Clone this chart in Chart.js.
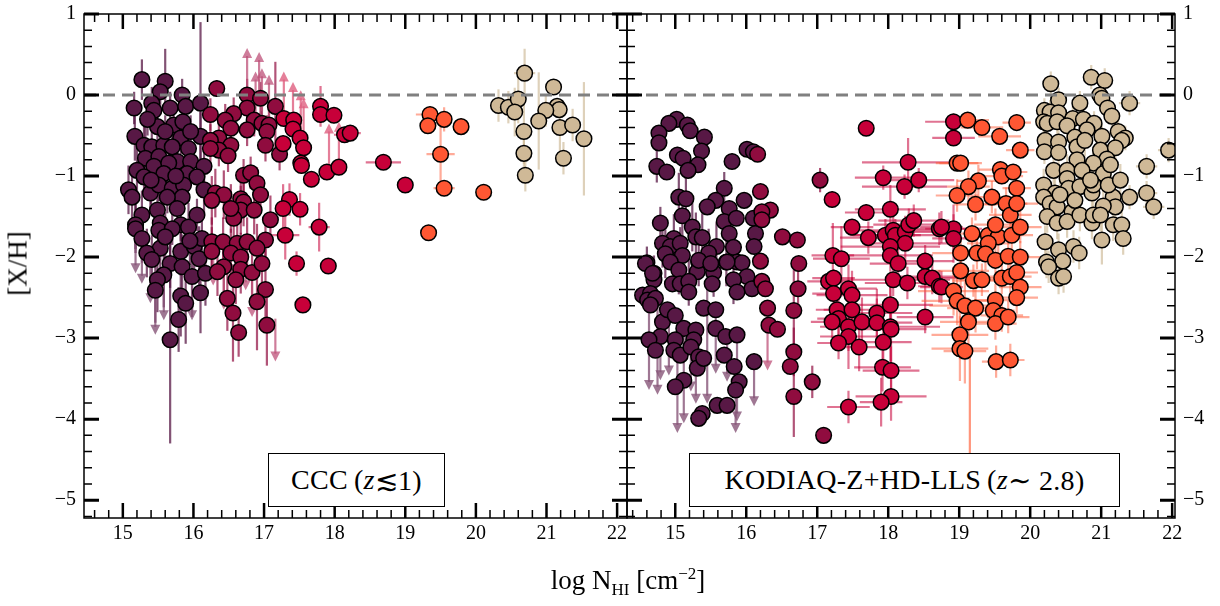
<!DOCTYPE html>
<html>
<head>
<meta charset="utf-8">
<script src="https://cdn.jsdelivr.net/npm/chart.js@4.4.1/dist/chart.umd.min.js"></script>
<style>
  body { margin: 0; background: #fff; }
  #wrap { position: relative; width: 1220px; height: 606px; font-family: "Liberation Serif", "DejaVu Serif", serif; }
  canvas { position: absolute; top: 0; }
  .box { position: absolute; border: 1.5px solid #000; background: #fff; display: flex; align-items: center; justify-content: center; font-size: 28px; letter-spacing: 0.3px; box-sizing: border-box; z-index: 5; white-space: nowrap; }
  #xtitle { position: absolute; left: 428px; width: 400px; top: 564px; text-align: center; font-size: 27px; z-index: 5; }
  #ytitle { position: absolute; left: -32px; width: 100px; top: 248px; text-align: center; font-size: 27px; transform: rotate(-90deg); z-index: 5; }
</style>
</head>
<body>
<div id="wrap">
  <canvas id="cccCanvas" width="640" height="606" style="left:0"></canvas>
  <canvas id="kodCanvas" width="606" height="606" style="left:614px"></canvas>
  <div class="box" style="left:268px; top:453px; width:177px; height:54px;">CCC&#8201;(<i>z</i>≲1)</div>
  <div class="box" style="left:689px; top:453px; width:431px; height:54px;">KODIAQ-Z+HD-LLS&#8201;(<i>z</i> ∼ 2.8)</div>
  <div id="xtitle">log N<sub style="font-size:17px">HI</sub> [cm<sup style="font-size:17px">−2</sup>]</div>
  <div id="ytitle">[X/H]</div>
</div>
<script>
// N_HI classes, in drawing order (last one ends up on top)
const classNames = ['SLFS', 'pLLS', 'LLS', 'SLLS', 'DLA'];
const fillColors = ['#581845', '#900C3F', '#C70039', '#FF5733', '#CFB997'];
const barColors = ['rgba(88,24,69,0.75)', 'rgba(144,12,63,0.7)', 'rgba(199,0,57,0.55)', 'rgba(255,87,51,0.5)', 'rgba(200,178,140,0.6)'];
const arrowColors = ['rgba(135,85,120,0.8)', 'rgba(190,80,120,0.75)', 'rgba(222,95,128,0.8)', 'rgba(255,130,100,0.85)', 'rgba(200,178,140,0.8)'];

const xTicks = [15, 16, 17, 18, 19, 20, 21, 22];
const yTicks = [-5, -4, -3, -2, -1, 0, 1];

// each point: [log NHI, [X/H], y error, x error]
const cccSlfs = [
  [15.27,0.19,0.25],[15.60,0.17,0.4],[15.53,0.04,0.2],[15.84,0.00,0.2],[15.16,-0.16,0.2],[15.41,-0.10,0.2],[15.44,-0.19,0.2],[15.67,-0.16,0.2],[15.89,-0.14,0.2],[16.10,-0.10,1.0],
  [15.49,-0.39,0.2],[15.72,-0.37,0.2],[15.85,-0.33,0.2],[15.17,-0.51,0.3],[16.10,-0.51,0.3],[15.82,-0.53,0.2],[15.30,-0.62,0.3],[15.41,-0.64,0.2],[15.58,-0.62,0.2],[15.70,-0.64,0.2],
  [15.93,-0.66,0.2],[15.32,-0.78,0.5],[15.51,-0.76,0.2],[15.77,-0.82,0.2],[15.96,-0.82,0.2],[16.15,-0.88,0.3],[15.20,-0.93,0.4],[15.44,-0.88,0.2],[15.65,-0.84,0.2],[15.58,-0.97,0.2],
  [15.91,-0.97,0.2],[16.05,-1.01,0.2],[15.30,-1.01,0.2],[15.08,-1.17,0.3],[15.13,-1.26,0.3],[15.39,-1.21,0.2],[15.51,-1.11,0.2],[15.70,-1.15,0.2],[15.86,-1.11,0.2],[15.84,-1.26,0.2],
  [15.63,-1.26,0.2],[16.15,-1.17,0.3],[15.27,-1.48,0.3],[15.49,-1.42,0.2],[15.77,-1.40,0.2],[16.05,-1.48,0.2],[15.18,-1.60,0.3],[15.53,-1.58,0.2],[15.82,-1.60,0.2],[15.18,-1.65,0.3],
  [15.51,-1.67,0.2],[15.70,-1.65,0.2],[15.93,-1.63,0.3],[15.27,-1.77,0.3],[15.53,-1.89,0.3],[15.82,-1.93,0.3],[16.01,-1.87,0.3],[16.12,-1.77,0.3],[15.34,-1.95,0.3],[15.41,-2.03,0.3],
  [15.67,-2.08,0.3],[15.84,-2.12,0.4],[16.08,-2.02,0.4],[15.98,-2.24,0.5],[16.17,-2.20,0.4],[15.58,-2.22,0.4],[15.49,-2.28,0.4],[15.46,-2.41,0.4],[16.10,-2.44,0.5],[15.82,-2.48,0.5],
  [15.89,-2.57,0.5],[15.79,-2.77,0.4],[15.67,-3.02,1.28],[15.35,-0.30,0.2],[15.60,-0.45,0.2],[15.96,-0.45,0.2],[15.40,-1.05,0.3],[15.75,-1.00,0.2],[15.60,-1.75,0.3],[15.95,-1.80,0.3]
];
const cccPlls = [
  [16.33,0.08,0.1],[16.76,0.00,0.2],[16.95,-0.04,0.2],[17.16,-0.14,0.55],[16.76,-0.16,0.2],[16.57,-0.23,0.2],[16.24,-0.24,0.2],[16.86,-0.31,0.2],[16.45,-0.31,0.2],[16.97,-0.35,0.2],
  [16.53,-0.41,0.2],[17.07,-0.37,0.2],[16.76,-0.43,0.2],[17.04,-0.45,0.2],[16.36,-0.53,0.2],[16.24,-0.56,0.2],[16.53,-0.62,0.2],[16.36,-0.68,0.2],[16.49,-0.75,0.2],[16.24,-0.66,0.2],
  [17.02,-0.62,0.2],[17.22,-0.73,0.2],[16.71,-0.99,0.2],[16.81,-0.96,0.2],[16.90,-1.09,0.2],[16.67,-1.28,0.3],[16.95,-1.23,0.2],[16.31,-1.21,0.3],[16.43,-1.23,0.3],[16.71,-1.32,0.3],
  [16.67,-1.42,0.3],[16.57,-1.52,0.3],[16.26,-1.30,0.3],[16.53,-1.40,0.3],[16.86,-1.42,0.3],[17.09,-1.54,0.3],[16.26,-1.81,0.3],[16.42,-1.81,0.3],[16.62,-1.83,0.3],[16.76,-1.81,0.3],
  [17.02,-1.79,0.3],[16.90,-1.89,0.3],[16.26,-1.93,0.3],[16.53,-1.95,0.3],[16.67,-2.00,0.3],[16.43,-2.12,0.3],[16.67,-2.15,0.3],[16.83,-2.19,0.3],[16.97,-2.08,0.3],[16.34,-2.18,0.3],
  [16.60,-2.28,0.3],[17.02,-2.40,0.5],[16.48,-2.51,0.4],[16.90,-2.55,0.6],[16.56,-2.69,0.6],[17.04,-2.84,0.5],[16.64,-2.93,0.3]
];
const cccLls = [
  [17.80,-0.14,0.25,0.1],[17.80,-0.24,0.1],[17.99,-0.25,0.1],[18.14,-0.49,0.1,0.15],[18.22,-0.47,0.1,0.15],[18.69,-0.83,0.05,0.25],[19.00,-1.11],[17.28,-0.29,0.1],[17.42,-0.31,0.1],[17.41,-0.42,0.1],
  [17.51,-0.53,0.1],[17.56,-0.65,0.1],[17.27,-0.60,0.1],[17.52,-0.84,0.1],[17.53,-0.87,0.1],[17.67,-1.04,0.1],[17.89,-0.95,0.1],[18.06,-0.89,0.1],[17.36,-1.29,0.2],[17.27,-1.40,0.3],
  [17.51,-1.41,0.2],[17.78,-1.63,0.3,0.15],[17.30,-1.73,0.3,0.2],[17.46,-2.08,0.15],[17.91,-2.11],[17.55,-2.59]
];
const cccSlls = [
  [19.35,-0.24,0.1,0.2],[19.55,-0.30,0.15,0.1],[19.32,-0.38,0,0.1],[19.79,-0.39,0.1],[19.50,-0.73,0.35,0.2],[19.55,-1.15,0.1,0.15],[20.11,-1.20,0.1],[19.33,-1.70]
];
const cccDla = [
  [20.69,0.27,0.3,0.15],[21.10,0.10,0.1],[20.32,-0.13,0.2],[20.46,-0.15,0.2],[20.60,-0.05,0.3],[20.55,-0.21,0.3],[21.15,-0.14,0.1],[21.18,-0.18,0.1],[20.99,-0.19,0.2],[20.89,-0.32,0.6],
  [20.68,-0.45,0.4],[21.19,-0.40,0.3],[21.37,-0.37,0.2],[21.53,-0.54,0.7],[20.68,-0.72,0.3],[21.24,-0.78,0.2],[20.70,-0.99,0.2]
];
// limits: [log NHI, from [X/H], arrow tip [X/H], class index]
const cccLimits = [
  [15.18,-1.65,-2.20,0],[15.27,-1.77,-2.33,0],[15.39,-1.95,-2.57,0],[15.46,-2.41,-2.96,0],[15.58,-2.22,-2.78,0],[15.98,-2.24,-2.78,0],
  [16.28,-1.93,-2.35,1],[16.43,-2.12,-2.65,1],[16.74,-1.81,-2.41,1],[16.83,-2.19,-2.74,1],[17.16,-2.76,-3.29,1],
  [16.76,0.00,0.58,1],[16.93,-0.04,0.53,1],[16.88,-0.25,0.29,1],[16.97,-0.20,0.33,1],[17.07,-0.30,0.25,1],
  [17.28,-0.29,0.29,2],[17.41,-0.31,0.16,2],[17.52,-0.53,0.06,2],[17.56,-0.65,-0.04,2],[17.92,-0.95,-0.35,2],[18.06,-0.89,-0.33,2]
];

const kodSlfs = [
  [15.02,-0.30],[14.91,-0.35],[15.17,-0.37],[15.21,-0.44],[14.77,-0.47],[14.77,-0.59],[15.41,-0.52],[15.37,-0.69],[15.03,-0.74,0.1],[15.11,-0.78],
  [15.32,-0.86],[15.18,-0.93],[14.74,-0.88,0.2],[14.88,-0.95],[15.80,-0.82],[16.01,-0.67],[16.10,-0.70],[15.69,-1.15,0.2],[15.57,-1.30],[15.45,-1.38],
  [15.97,-1.30],[15.05,-1.26,0.3],[15.15,-1.28,0.3],[15.76,-1.40],[15.10,-1.49,0.3],[14.79,-1.58,0.2],[15.24,-1.63,0.3],[15.69,-1.56,0.2],[15.86,-1.52],[16.10,-1.52],
  [15.29,-1.75,0.3],[15.38,-1.76,0.3],[15.76,-1.71,0.2],[16.13,-1.71],[14.98,-1.77,0.3],[14.82,-1.83,0.3],[14.93,-1.87],[15.07,-1.83,0.2],[15.58,-1.87,0.3],[15.82,-1.88,0.2],
  [16.11,-1.87],[14.86,-1.96,0.3],[15.10,-1.98],[15.47,-1.95,0.3],[14.60,-2.07,0.2],[14.93,-2.06],[15.33,-2.06,0.3],[15.72,-2.06,0.3],[15.87,-2.06],[15.94,-2.07],
  [15.05,-2.16,0.3],[15.31,-2.18],[15.54,-2.19,0.3],[16.01,-2.24],[14.70,-2.20],[14.70,-2.28,0.3],[14.96,-2.33],[15.07,-2.33],[15.19,-2.30,0.3],[15.52,-2.33],
  [15.82,-2.28,0.3],[16.08,-2.39],[14.54,-2.47],[14.65,-2.45],[14.61,-2.53],[14.72,-2.51],[14.65,-2.59],[14.82,-2.80],[14.79,-2.98],[14.63,-3.02],
  [14.72,-3.15],[15.19,-2.43],[14.89,-2.65],[15.00,-2.72],[15.12,-2.88],[15.00,-3.02],[14.98,-3.15],[15.07,-3.21],[15.29,-2.90],[15.26,-3.02],
  [15.22,-3.11],[15.33,-3.23],[15.31,-3.37],[15.40,-3.25],[15.12,-3.52],[15.00,-3.60],[15.40,-2.63],[15.57,-2.65],[15.57,-2.88],[15.71,-2.98],
  [15.87,-2.96],[15.87,-2.43],[15.69,-3.21],[16.11,-3.29],[15.83,-3.35],[15.90,-3.54],[15.85,-3.64],[15.59,-3.83],[15.73,-3.83],[15.38,-3.93],
  [15.33,-3.99],[15.33,-2.04],[15.50,-2.08],[15.73,-2.06],[14.58,-2.08],[14.68,-2.20]
];
const kodPlls = [
  [16.16,-0.73],[16.20,-1.19],[16.34,-1.42],[16.22,-1.44],[16.22,-1.54],[16.51,-1.75],[16.72,-1.79],[16.20,-2.05],[16.74,-2.08],[16.22,-2.30],
  [16.27,-2.39],[16.73,-2.39,0.3],[16.30,-2.63],[16.32,-2.84],[16.44,-2.89],[16.67,-2.66,0.5],[16.67,-3.17,0.3],[16.62,-3.35],[16.67,-3.72,0.5],[16.93,-3.54,0.2],
  [17.09,-4.20,0.1],[17.04,-1.05,0.15]
];
const kodLls = [
  [17.69,-0.41,0.05,0.1],[18.28,-0.83,0.3,0.65],[17.93,-1.02,0.15,0.4],[18.23,-1.13,0.15,0.6],[18.43,-1.05,0.15,0.5],[17.21,-1.29,0.1],[17.69,-1.45,0.1,0.3],[18.03,-1.41,0.3,0.5],[17.49,-1.63,0.1,0.3],[17.72,-1.76,0.2,0.4],
  [17.96,-1.73,0.2,0.5],[18.07,-1.67,0.2,0.6],[18.10,-1.73,0.2,0.6],[18.24,-1.69,0.2,0.6],[18.29,-1.60,0.2,0.5],[18.36,-1.55,0.2,0.5],[18.24,-1.83,0.3,0.6],[18.03,-1.87,0.2,0.7],[18.03,-1.98,0.2,0.6],[18.14,-2.08,0.2,0.4],
  [18.52,-2.05,0.2,0.4],[18.72,-1.65,0.2,0.4],[18.92,-1.65,0.3,0.4],[18.92,-1.77,0.3,0.3],[17.22,-1.98,0.4,0.3],[17.34,-2.02,0.4,0.4],[17.16,-2.30,0.1,0.3],[17.23,-2.26,0.1,0.3],[17.23,-2.45,0.3,0.3],[17.44,-2.39,0.3,0.4],
  [17.49,-2.47,0.3,0.5],[18.07,-2.28,0.2,0.8],[18.27,-2.32,0.2,0.6],[18.52,-2.24,0.3,0.5],[18.62,-2.26,0.2,0.4],[18.72,-2.36,0.2,0.3],[17.28,-2.65,0.2,0.3],[17.49,-2.65,0.4,0.4],[17.30,-2.76,0.3,0.3],[17.21,-2.80,0.2,0.3],
  [17.44,-2.86,0.3,0.4],[17.63,-2.80,0.3,0.5],[17.84,-2.69,0.3,0.5],[17.84,-2.81,0.3,0.5],[18.03,-2.59,0.3,0.6],[18.03,-2.86,0.5,0.7],[18.04,-2.89,0.4,0.5],[18.52,-2.74,0.2,0.4],[17.44,-2.98,0.4,0.4],[17.30,-3.06,0.2,0.3],
  [17.59,-3.11,0.3,0.3],[17.93,-3.05,0.3,0.4],[17.92,-3.36,0.3,0.4],[18.04,-3.40,0.3,0.4],[18.04,-3.72,0.3,0.5],[17.90,-3.79,0.3,0.3],[17.44,-3.85,0.2,0.3],[18.92,-0.33,0.1,0.4],[18.92,-0.53,0.1,0.3],[18.75,-1.63,0.2,0.3],
  [18.75,-2.37,0.2,0.3]
];
const kodSlls = [
  [19.12,-0.31,0.1,0.3],[19.32,-0.40,0.1,0.3],[19.57,-0.51,0.1,0.3],[19.81,-0.34,0.1,0.2],[19.86,-0.68,0.1,0.2],[18.97,-0.84,0.1,0.3],[19.02,-0.84,0.1,0.3],[19.58,-0.92,0.1,0.3],[19.60,-1.00,0.1,0.3],[19.76,-0.95,0.1,0.2],
  [19.81,-1.15,0.1,0.2],[19.27,-1.06,0.2,0.3],[19.13,-1.13,0.2,0.3],[18.97,-1.24,0.2,0.3],[19.23,-1.35,0.2,0.3],[19.46,-1.26,0.2,0.3],[19.66,-1.34,0.2,0.3],[19.72,-1.48,0.2,0.3],[19.81,-1.34,0.2,0.3],[19.18,-1.71,0.2,0.3],
  [19.41,-1.73,0.2,0.3],[19.55,-1.75,0.2,0.3],[19.74,-1.73,0.2,0.3],[19.86,-1.63,0.2,0.3],[19.51,-1.60,0.2,0.3],[19.41,-1.83,0.2,0.3],[19.25,-1.95,0.2,0.3],[19.37,-1.96,0.2,0.3],[19.51,-2.04,0.2,0.3],[19.69,-1.99,0.2,0.3],
  [19.86,-2.00,0.2,0.3],[19.02,-1.95,0.2,0.4],[19.02,-2.17,0.2,0.4],[19.20,-2.29,0.2,0.3],[19.32,-2.28,0.2,0.3],[19.60,-2.26,0.2,0.3],[19.72,-2.24,0.2,0.3],[19.81,-2.19,0.2,0.3],[19.86,-2.37,0.2,0.3],[19.81,-2.50,0.2,0.3],
  [19.51,-2.53,0.2,0.3],[18.92,-2.42,0.3,0.5],[18.97,-2.54,0.3,0.5],[19.08,-2.60,0.3,0.5],[19.23,-2.63,0.3,0.4],[19.13,-2.80,0.3,0.4],[19.48,-2.66,0.2,0.3],[19.60,-2.72,0.2,0.3],[19.51,-2.82,0.2,0.3],[19.69,-2.74,0.2,0.3],
  [19.01,-2.96,0.3,0.4],[19.01,-3.13,0.4,0.4],[19.08,-3.16,0.4,0.3],[19.52,-3.29,0.2,0.2],[19.72,-3.27,0.2,0.2]
];
const kodDla = [
  [20.29,0.14,0.15,0.1],[20.86,0.22,0.15,0.1],[21.05,0.18,0.15,0.1],[20.40,-0.06,0.15,0.1],[20.70,-0.10,0.15,0.1],[20.98,0.00,0.15,0.1],[21.01,-0.04,0.15,0.1],[21.40,-0.10,0.15,0.15],[20.20,-0.19,0.15,0.1],[20.28,-0.21,0.15,0.1],
  [20.40,-0.22,0.15,0.1],[20.19,-0.33,0.15,0.1],[20.24,-0.35,0.15,0.1],[20.38,-0.33,0.15,0.1],[20.60,-0.29,0.15,0.1],[20.75,-0.30,0.15,0.1],[20.90,-0.35,0.15,0.1],[21.09,-0.16,0.15,0.1],[21.15,-0.26,0.15,0.1],[21.24,-0.45,0.15,0.1],
  [21.34,-0.53,0.15,0.1],[21.29,-0.56,0.15,0.1],[20.52,-0.38,0.15,0.1],[20.80,-0.43,0.15,0.1],[20.63,-0.52,0.15,0.1],[21.01,-0.51,0.15,0.1],[20.21,-0.56,0.15,0.1],[20.40,-0.58,0.15,0.1],[20.20,-0.70,0.15,0.1],[20.40,-0.71,0.15,0.1],
  [20.66,-0.64,0.15,0.1],[20.99,-0.68,0.15,0.1],[21.20,-0.65,0.15,0.1],[21.08,-0.79,0.15,0.1],[20.66,-0.80,0.15,0.1],[21.95,-0.68,0.15,0.15],[21.64,-0.88,0.15,0.15],[21.64,-1.21,0.15,0.15],[21.74,-1.38,0.15,0.15],[21.40,-1.26,0.15,0.15],
  [20.33,-0.93,0.2,0.1],[20.52,-0.93,0.2,0.1],[20.89,-0.84,0.2,0.1],[21.03,-0.97,0.2,0.1],[20.73,-0.93,0.2,0.1],[20.52,-1.03,0.2,0.1],[20.19,-1.11,0.2,0.1],[20.35,-1.21,0.2,0.1],[20.19,-1.26,0.2,0.1],[20.28,-1.34,0.2,0.1],
  [20.54,-1.15,0.2,0.1],[20.70,-1.13,0.2,0.1],[20.87,-1.21,0.2,0.1],[20.89,-1.11,0.2,0.1],[21.17,-1.26,0.2,0.1],[21.10,-1.11,0.2,0.1],[21.20,-1.38,0.2,0.1],[21.03,-1.37,0.2,0.1],[20.59,-1.44,0.2,0.1],[20.38,-1.38,0.2,0.1],
  [20.24,-1.50,0.2,0.1],[20.38,-1.58,0.2,0.1],[20.52,-1.56,0.2,0.1],[20.70,-1.48,0.2,0.1],[20.87,-1.58,0.2,0.1],[20.89,-1.48,0.2,0.1],[21.17,-1.60,0.2,0.1],[21.29,-1.60,0.2,0.1],[21.31,-1.77,0.2,0.1],[21.01,-1.79,0.3,0.1],
  [20.21,-1.81,0.2,0.1],[20.40,-1.91,0.2,0.1],[20.61,-1.87,0.2,0.1],[20.69,-1.95,0.2,0.1],[20.46,-2.05,0.2,0.1],[20.23,-2.06,0.2,0.1],[20.26,-2.12,0.2,0.1],[20.40,-2.26,0.2,0.1],[20.47,-2.24,0.2,0.1],[20.77,-0.56,0.2,0.1],
  [20.85,-1.05,0.2,0.1],[21.13,-0.86,0.2,0.1],[20.42,-1.23,0.2,0.1],[20.63,-1.30,0.2,0.1],[21.27,-1.05,0.2,0.1],[20.99,-1.48,0.2,0.1]
];
const kodLimits = [
  [14.63,-2.47,-3.64,0],[14.75,-2.51,-3.70,0],[14.79,-2.80,-3.52,0],[14.91,-2.65,-3.46,0],[15.03,-3.02,-4.17,0],[15.12,-2.88,-4.05,0],[15.22,-3.11,-3.66,0],
  [15.29,-2.90,-3.81,0],[15.45,-2.33,-3.81,0],[15.57,-2.65,-3.44,0],[15.73,-2.98,-3.54,0],[15.87,-2.96,-4.03,0],[15.85,-3.64,-4.17,0],[16.11,-3.29,-3.84,0],
  [16.30,-2.63,-3.40,1],[19.15,-3.20,-4.95,3]
];

const tickFont = '20px "Liberation Serif", "DejaVu Serif", serif';

function makePanelPlugin(groups, limits, ySide) {
  return {
    id: 'panel',
    beforeDatasetsDraw(chart) {
      const { ctx, chartArea: a, scales: { x, y } } = chart;
      ctx.save();
      ctx.beginPath();
      ctx.rect(a.left, a.top, a.right - a.left, a.bottom - a.top);
      ctx.clip();
      ctx.lineWidth = 2.2;
      groups.forEach((pts, i) => {
        ctx.strokeStyle = barColors[i];
        pts.forEach(([px, py, ey = 0, ex = 0]) => {
          ctx.beginPath();
          if (ey) {
            ctx.moveTo(x.getPixelForValue(px), y.getPixelForValue(py - ey));
            ctx.lineTo(x.getPixelForValue(px), y.getPixelForValue(py + ey));
          }
          if (ex) {
            ctx.moveTo(x.getPixelForValue(px - ex), y.getPixelForValue(py));
            ctx.lineTo(x.getPixelForValue(px + ex), y.getPixelForValue(py));
          }
          ctx.stroke();
        });
      });
      limits.forEach(([lx, from, to, c]) => {
        const X = x.getPixelForValue(lx), y1 = y.getPixelForValue(from), y2 = y.getPixelForValue(to);
        const dir = Math.sign(y2 - y1);
        ctx.strokeStyle = arrowColors[c];
        ctx.fillStyle = arrowColors[c];
        ctx.lineWidth = 2.2;
        ctx.beginPath();
        ctx.moveTo(X, y1);
        ctx.lineTo(X, y2 - dir * 8);
        ctx.stroke();
        ctx.beginPath();
        ctx.moveTo(X, y2);
        ctx.lineTo(X - 5, y2 - dir * 10);
        ctx.lineTo(X + 5, y2 - dir * 10);
        ctx.closePath();
        ctx.fill();
      });
      ctx.restore();
    },
    afterDatasetsDraw(chart) {
      const { ctx, chartArea: a, scales: { y } } = chart;
      ctx.save();
      ctx.strokeStyle = 'rgba(128,128,128,1)';
      ctx.lineWidth = 3;
      ctx.setLineDash([12, 7]);
      ctx.beginPath();
      ctx.moveTo(a.left, y.getPixelForValue(0));
      ctx.lineTo(a.right, y.getPixelForValue(0));
      ctx.stroke();
      ctx.restore();
    },
    afterDraw(chart) {
      const { ctx, chartArea: a, scales: { x, y } } = chart;
      ctx.save();
      ctx.strokeStyle = '#000';
      ctx.lineWidth = 1.5;
      ctx.strokeRect(a.left, a.top, a.right - a.left, a.bottom - a.top);
      // x ticks, inward on top and bottom
      for (let k = Math.ceil(x.min * 5); k <= Math.floor(x.max * 5); k++) {
        const v = k / 5, major = k % 5 === 0, X = x.getPixelForValue(v);
        const len = major ? 15 : 8;
        ctx.lineWidth = major ? 2.5 : 1.5;
        ctx.beginPath();
        ctx.moveTo(X, a.bottom); ctx.lineTo(X, a.bottom - len);
        ctx.moveTo(X, a.top); ctx.lineTo(X, a.top + len);
        ctx.stroke();
      }
      // y ticks, inward on left and right
      for (let k = Math.ceil(y.min * 5); k <= Math.floor(y.max * 5); k++) {
        const v = k / 5, major = k % 5 === 0, Y = y.getPixelForValue(v);
        const len = major ? 15 : 8;
        ctx.lineWidth = major ? 3 : 1.5;
        ctx.beginPath();
        ctx.moveTo(a.left, Y); ctx.lineTo(a.left + len, Y);
        ctx.moveTo(a.right, Y); ctx.lineTo(a.right - len, Y);
        ctx.stroke();
      }
      ctx.fillStyle = '#000';
      ctx.font = tickFont;
      ctx.textAlign = 'center';
      ctx.textBaseline = 'top';
      xTicks.forEach((t) => ctx.fillText(String(t), x.getPixelForValue(t), a.bottom + 6));
      ctx.textBaseline = 'middle';
      ctx.textAlign = ySide === 'left' ? 'right' : 'left';
      const lx = ySide === 'left' ? a.left - 8 : a.right + 8;
      yTicks.forEach((t) => ctx.fillText(t < 0 ? '−' + Math.abs(t) : String(t), lx, y.getPixelForValue(t)));
      ctx.restore();
    }
  };
}

function makeChart(canvasId, groups, limits, xMin, xMax, padding, ySide) {
  return new Chart(document.getElementById(canvasId), {
    type: 'scatter',
    data: {
      datasets: groups.map((pts, i) => ({
        label: classNames[i],
        data: pts.map((p) => ({ x: p[0], y: p[1] })),
        backgroundColor: fillColors[i],
        borderColor: '#000',
        borderWidth: 1.5,
        pointRadius: 7.8,
        pointHoverRadius: 7.8,
        order: groups.length - i,
      })),
    },
    options: {
      responsive: false,
      animation: false,
      events: [],
      layout: { padding },
      plugins: { legend: { display: false }, tooltip: { enabled: false } },
      scales: {
        x: { type: 'linear', min: xMin, max: xMax, display: false },
        y: { type: 'linear', min: -5.22, max: 1.0, display: false },
      },
    },
    plugins: [makePanelPlugin(groups, limits, ySide)],
  });
}

makeChart('cccCanvas', [cccSlfs, cccPlls, cccLls, cccSlls, cccDla], cccLimits, 14.45, 22.14,
  { left: 84, right: 13, top: 14, bottom: 88 }, 'left');
makeChart('kodCanvas', [kodSlfs, kodPlls, kodLls, kodSlls, kodDla], kodLimits, 14.32, 22.04,
  { left: 13, right: 45, top: 14, bottom: 88 }, 'right');
</script>
</body>
</html>
